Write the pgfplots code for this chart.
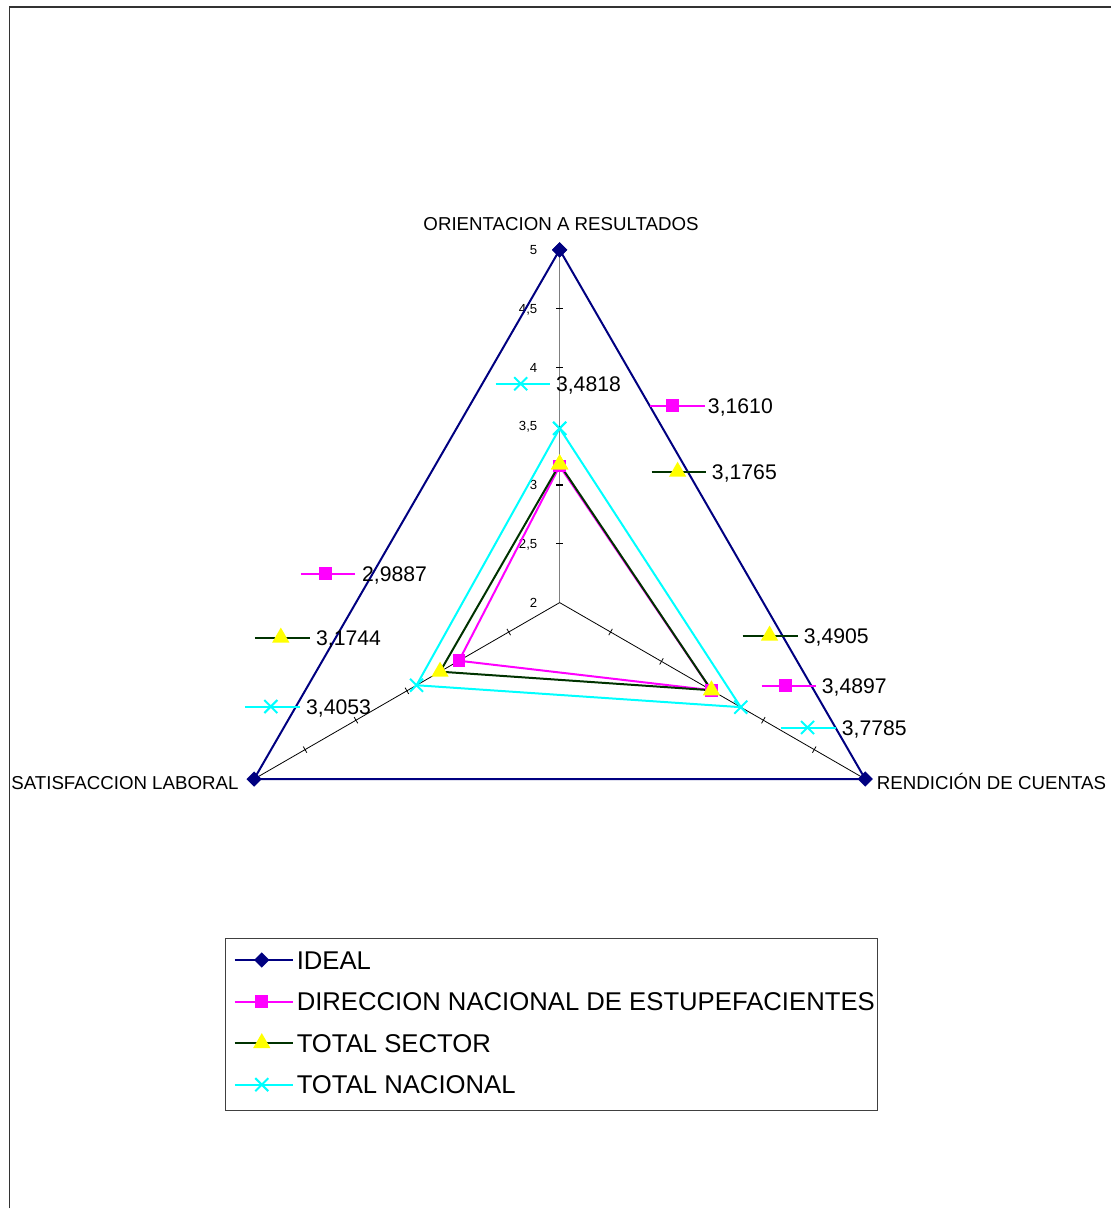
\documentclass[border=0pt]{standalone}
\usepackage{pgfplots}
\pgfplotsset{compat=1.18}
\usepackage{pgfplotstable}
\usepackage{fontspec}
\setmainfont{Liberation Sans}
\definecolor{navy}{RGB}{0,0,128}
\definecolor{dgreen}{RGB}{0,51,0}
\definecolor{mag}{RGB}{255,0,255}
\definecolor{cy}{RGB}{0,255,255}
\definecolor{yel}{RGB}{255,255,0}

% a = angle of the category axis (deg), v = value
\pgfplotstableread{
a v
90 5
-30 5
210 5
90 5
}\ideal
\pgfplotstableread{
a v
90 3.1610
-30 3.4897
210 2.9887
90 3.1610
}\dne
\pgfplotstableread{
a v
90 3.1765
-30 3.4905
210 3.1744
90 3.1765
}\sector
\pgfplotstableread{
a v
90 3.4818
-30 3.7785
210 3.4053
90 3.4818
}\nacional

\begin{document}
\begin{tikzpicture}
\begin{axis}[
  x=58.835pt, y=58.835pt,
  xmin=-4.759, xmax=4.691, ymin=-5.150, ymax=5.1245,
  hide axis, clip=false,
  legend image code/.code={\path (0pt,0pt) -- (29pt,0pt); \draw[mark repeat=2,mark phase=2,#1] plot coordinates {(0pt,0pt)(13.5pt,0pt)(27pt,0pt)};},
  legend style={at={(axis cs:-2.838,-2.855)}, anchor=north west,
    draw=none, fill=none,
    font=\fontsize{12.85}{15}\selectfont,
    cells={anchor=west},
    nodes={inner xsep=1.5pt, inner ysep=0pt, text height=9.2pt, text depth=0pt},
    row sep=11.6pt, inner xsep=3.75pt, inner ysep=6pt},
  legend cell align=left,
]
\path (axis cs:-4.759,-5.150) rectangle (axis cs:4.691,5.1245);
% frame
\draw[line width=0.75pt, color=black!80] (axis cs:-4.678,-5.150) -- (axis cs:-4.678,5.065) -- (axis cs:4.691,5.065);
% legend box
\draw[line width=0.5pt, color=black!75] (axis cs:-2.838,-2.855) rectangle (axis cs:2.702,-4.317);
% spokes
\draw[black!50, line width=0.6pt] (axis cs:0,0) -- (axis cs:0,3);
\draw[black, line width=0.4pt] (axis cs:0,0) -- (axis cs:2.598,-1.5);
\draw[black, line width=0.4pt] (axis cs:0,0) -- (axis cs:-2.598,-1.5);
% ticks
\pgfplotsinvokeforeach{0.5,1,1.5,2,2.5,3}{
  \draw[black, line width=0.6pt] (axis cs:-0.03,#1) -- (axis cs:0.03,#1);
}
\pgfplotsinvokeforeach{0.5,1,1.5,2,2.5}{
  \draw[black, line width=0.4pt] (axis cs:{#1*0.8660},{-#1*0.5}) ++(60:1.8pt) -- ++(240:3.6pt);
  \draw[black, line width=0.4pt] (axis cs:{-#1*0.8660},{-#1*0.5}) ++(120:1.8pt) -- ++(300:3.6pt);
}
% tick labels
\begin{scope}[every node/.style={anchor=east, inner sep=0pt, text height=4.7pt, text depth=0pt, font=\fontsize{6.6}{8}\selectfont}]
\node at (axis cs:-0.187,0) {2};
\node at (axis cs:-0.187,0.5) {2,5};
\node at (axis cs:-0.187,1) {3};
\node at (axis cs:-0.187,1.5) {3,5};
\node at (axis cs:-0.187,2) {4};
\node at (axis cs:-0.187,2.5) {4,5};
\node at (axis cs:-0.187,3) {5};
\end{scope}
% category labels
\begin{scope}[every node/.style={inner sep=0pt, text height=6.7pt, text depth=0pt, font=\fontsize{9.35}{11}\selectfont}]
\node[anchor=center] at (axis cs:0.012,3.221) {ORIENTACION A RESULTADOS};
\node[anchor=east] at (axis cs:-2.728,-1.530) {SATISFACCION LABORAL};
\node[anchor=west] at (axis cs:2.694,-1.534) {RENDICIÓN DE CUENTAS};
\end{scope}

% series
\addplot[navy, line width=1pt, mark=square*, mark size=2.2pt, mark options={rotate=45, fill=navy, draw=navy}]
  table[x expr={(\thisrow{v}-2)*cos(\thisrow{a})}, y expr={(\thisrow{v}-2)*sin(\thisrow{a})}] {\ideal};
\addlegendentry{IDEAL}
\addplot[mag, line width=1pt, mark=square*, mark size=2.7pt, mark options={fill=mag, draw=mag}]
  table[x expr={(\thisrow{v}-2)*cos(\thisrow{a})}, y expr={(\thisrow{v}-2)*sin(\thisrow{a})}] {\dne};
\addlegendentry{DIRECCION NACIONAL DE ESTUPEFACIENTES}
\addplot[dgreen, line width=1pt, mark=triangle*, mark size=4pt, mark options={fill=yel, draw=yel}]
  table[x expr={(\thisrow{v}-2)*cos(\thisrow{a})}, y expr={(\thisrow{v}-2)*sin(\thisrow{a})}] {\sector};
\addlegendentry{TOTAL SECTOR}
\addplot[cy, line width=1pt, mark=x, mark size=4.6pt, mark options={draw=cy, line width=1pt}]
  table[x expr={(\thisrow{v}-2)*cos(\thisrow{a})}, y expr={(\thisrow{v}-2)*sin(\thisrow{a})}] {\nacional};
\addlegendentry{TOTAL NACIONAL}

% data labels with legend keys
\addplot[forget plot, cy, line width=1pt, mark=x, mark size=4.6pt, mark repeat=2, mark phase=2, mark options={line width=1pt}] coordinates {(-0.544,1.861)(-0.331,1.861)(-0.085,1.861)};
\addplot[forget plot, mag, line width=1pt, mark=square*, mark size=2.7pt, mark repeat=2, mark phase=2, mark options={fill=mag}] coordinates {(0.765,1.674)(0.960,1.674)(1.232,1.674)};
\addplot[forget plot, dgreen, line width=1pt, mark=triangle*, mark size=4pt, mark repeat=2, mark phase=2, mark options={fill=yel, draw=yel}] coordinates {(0.782,1.113)(1.003,1.113)(1.241,1.113)};
\addplot[forget plot, dgreen, line width=1pt, mark=triangle*, mark size=4pt, mark repeat=2, mark phase=2, mark options={fill=yel, draw=yel}] coordinates {(1.555,-0.280)(1.785,-0.280)(2.023,-0.280)};
\addplot[forget plot, mag, line width=1pt, mark=square*, mark size=2.7pt, mark repeat=2, mark phase=2, mark options={fill=mag}] coordinates {(1.717,-0.705)(1.921,-0.705)(2.176,-0.705)};
\addplot[forget plot, cy, line width=1pt, mark=x, mark size=4.6pt, mark repeat=2, mark phase=2, mark options={line width=1pt}] coordinates {(1.878,-1.062)(2.108,-1.062)(2.346,-1.062)};
\addplot[forget plot, mag, line width=1pt, mark=square*, mark size=2.7pt, mark repeat=2, mark phase=2, mark options={fill=mag}] coordinates {(-2.201,0.246)(-1.989,0.246)(-1.742,0.246)};
\addplot[forget plot, dgreen, line width=1pt, mark=triangle*, mark size=4pt, mark repeat=2, mark phase=2, mark options={fill=yel, draw=yel}] coordinates {(-2.592,-0.297)(-2.371,-0.297)(-2.125,-0.297)};
\addplot[forget plot, cy, line width=1pt, mark=x, mark size=4.6pt, mark repeat=2, mark phase=2, mark options={line width=1pt}] coordinates {(-2.677,-0.884)(-2.456,-0.884)(-2.210,-0.884)};

\begin{scope}[every node/.style={anchor=west, inner sep=0pt, text height=7.6pt, text depth=0pt, font=\fontsize{10.6}{12}\selectfont}]
\node at (axis cs:-0.034,1.861) {3,4818};
\node at (axis cs:1.258,1.674) {3,1610};
\node at (axis cs:1.292,1.113) {3,1765};
\node at (axis cs:2.074,-0.280) {3,4905};
\node at (axis cs:2.227,-0.705) {3,4897};
\node at (axis cs:2.397,-1.062) {3,7785};
\node at (axis cs:-1.683,0.246) {2,9887};
\node at (axis cs:-2.074,-0.297) {3,1744};
\node at (axis cs:-2.159,-0.884) {3,4053};
\end{scope}
\end{axis}
\end{tikzpicture}
\end{document}
